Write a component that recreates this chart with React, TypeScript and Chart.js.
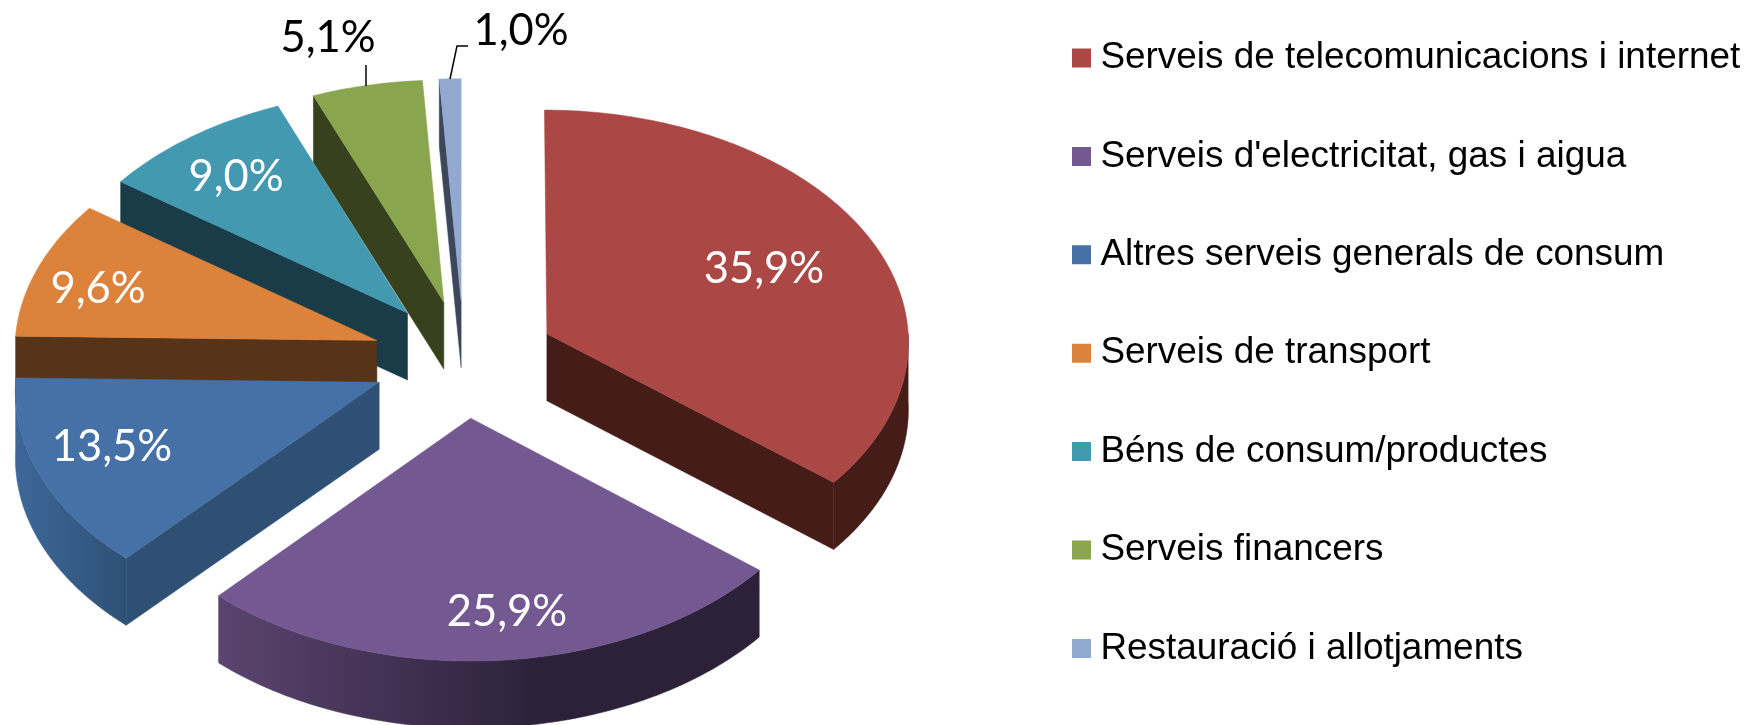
import React, { useEffect, useRef } from "react";
import { Chart, registerables } from "chart.js";

Chart.register(...registerables);

const categories = [
  "Serveis de telecomunicacions i internet",
  "Serveis d'electricitat, gas i aigua",
  "Altres serveis generals de consum",
  "Serveis de transport",
  "Béns de consum/productes",
  "Serveis financers",
  "Restauració i allotjaments",
];
const shares = [35.9, 25.9, 13.5, 9.6, 9.0, 5.1, 1.0];

const topColors = ["#AB4744", "#735891", "#4571A6", "#DD823B", "#4299B0", "#89A54E", "#93A9CF"];
const faceColors = ["#451C18", "#2C2139", "#2E5075", "#573418", "#1A3C48", "#38411D", "#3C475C"];
const wallLight = ["#451C18", "#5A4470", "#3E689A", "#573418", "#1A3C48", "#38411D", "#3C475C"];
const wallDark = ["#451C18", "#2C2139", "#2E5075", "#573418", "#1A3C48", "#38411D", "#3C475C"];
const wallFade = [1, 0.6, 1, 1, 1, 1, 1];
const labelColors = ["#fff", "#fff", "#fff", "#fff", "#fff", "#000", "#000"];
const labelAnchors = [
  [764, 269],
  [507, 612],
  [112, 447],
  [98, 289],
  [236, 177],
  [328, 38],
  [521, 31],
];
const leaderLines = [
  null,
  null,
  null,
  null,
  null,
  [[366, 65], [366, 86]],
  [[450, 79], [457, 46], [468, 46]],
];

const RADIUS = 362.5;
const EXPLODE = 92;
const TILT = 0.64;
const PERSPECTIVE = 0.03;
const DEPTH = 67;
const CENTER_X = 464;
const CENTER_Y = 359;
const LEGEND_FONT = 36.9;
const LEGEND_STEP = 98.4;
const LEGEND_PAD = LEGEND_STEP - LEGEND_FONT;
const LEGEND_X = 1081 - LEGEND_PAD;
const LEGEND_Y = 58 - LEGEND_PAD - LEGEND_FONT / 2;
const LEGEND_ROOM = 1000;

const project = (u: number, v: number, z: number, R: number, cx: number, cy: number) => {
  const p = 1 / (1 - (PERSPECTIVE * v) / R);
  return [cx + u * p, cy + v * TILT * p + z];
};

const pie3d = {
  id: "pie3d",
  beforeLayout(chart: any) {
    // the legend rows are spaced wider than the canvas would allow in one column
    const legend = chart.legend;
    if (!legend.__tall) {
      legend.__tall = true;
      const update = legend.update;
      legend.update = function (w: number, _h: number, m: any) {
        return update.call(legend, w, LEGEND_ROOM, m);
      };
    }
  },
  afterLayout(chart: any) {
    chart.chartArea = {
      left: 0,
      top: 0,
      right: CENTER_X * 2,
      bottom: CENTER_Y * 2,
      width: CENTER_X * 2,
      height: CENTER_Y * 2,
    };
    const legend = chart.legend;
    const w = legend.right - legend.left;
    legend.left = LEGEND_X;
    legend.right = LEGEND_X + w;
    legend.top = LEGEND_Y;
    legend.bottom = LEGEND_Y + LEGEND_ROOM;
  },
  beforeDatasetDraw(chart: any) {
    const ctx = chart.ctx;
    const arcs = chart.getDatasetMeta(0).data;
    const order = arcs
      .map((a: any, i: number) => i)
      .sort((a: number, b: number) => {
        const m = (x: any) => Math.sin((x.startAngle + x.endAngle) / 2);
        return m(arcs[a]) - m(arcs[b]);
      });

    order.forEach((i: number) => {
      const arc = arcs[i];
      const { x, y, startAngle: s, endAngle: e, outerRadius: R } = arc;
      const mid = (s + e) / 2;
      const ox = Math.cos(mid) * EXPLODE;
      const oy = Math.sin(mid) * EXPLODE;
      const pt = (r: number, a: number, z: number) =>
        project(ox + Math.cos(a) * r, oy + Math.sin(a) * r, z, R, x, y);

      const poly = (pts: number[][], fill: any) => {
        ctx.beginPath();
        pts.forEach((p, k) => (k ? ctx.lineTo(p[0], p[1]) : ctx.moveTo(p[0], p[1])));
        ctx.closePath();
        ctx.fillStyle = fill;
        ctx.fill();
        ctx.strokeStyle = fill;
        ctx.lineWidth = 0.5;
        ctx.stroke();
      };

      // Cut faces facing the viewer
      if (Math.cos(s) < -0.001) {
        poly([pt(0, s, 0), pt(R, s, 0), pt(R, s, DEPTH), pt(0, s, DEPTH)], faceColors[i]);
      }
      if (Math.cos(e) > 0.001) {
        poly([pt(0, e, 0), pt(R, e, 0), pt(R, e, DEPTH), pt(0, e, DEPTH)], faceColors[i]);
      }

      // Outer wall: only the part of the rim in the front half
      const a0 = Math.max(s, 0);
      const a1 = Math.min(e, Math.PI);
      if (a1 > a0) {
        const top: number[][] = [];
        const bottom: number[][] = [];
        const steps = 80;
        for (let k = 0; k <= steps; k++) {
          const a = a0 + ((a1 - a0) * k) / steps;
          top.push(pt(R, a, 0));
          bottom.unshift(pt(R, a, DEPTH));
        }
        const xs = top.map((p) => p[0]);
        const minX = Math.min(...xs);
        const maxX = Math.max(...xs);
        const g = ctx.createLinearGradient(minX, 0, maxX, 0);
        g.addColorStop(0, wallLight[i]);
        g.addColorStop(wallFade[i], wallDark[i]);
        g.addColorStop(1, wallDark[i]);
        poly([...top, ...bottom], g);
      }

      // Top surface
      const surface: number[][] = [pt(0, s, 0)];
      const n = Math.max(8, Math.ceil((e - s) * 60));
      for (let k = 0; k <= n; k++) surface.push(pt(R, s + ((e - s) * k) / n, 0));
      poly(surface, topColors[i]);
    });
    return false;
  },
  afterDatasetsDraw(chart: any) {
    const ctx = chart.ctx;
    ctx.save();
    ctx.strokeStyle = "#000";
    ctx.lineWidth = 1.5;
    leaderLines.forEach((line) => {
      if (!line) return;
      ctx.beginPath();
      line.forEach((p, k) => (k ? ctx.lineTo(p[0], p[1]) : ctx.moveTo(p[0], p[1])));
      ctx.stroke();
    });
    ctx.font = "43.5px Lato";
    ctx.textAlign = "center";
    ctx.textBaseline = "middle";
    shares.forEach((v, i) => {
      ctx.fillStyle = labelColors[i];
      ctx.fillText(v.toFixed(1).replace(".", ",") + "%", labelAnchors[i][0], labelAnchors[i][1]);
    });
    ctx.restore();
  },
};

export default function App() {
  const ref = useRef<HTMLCanvasElement>(null);
  useEffect(() => {
    if (!ref.current) return;
    const chart = new Chart(ref.current, {
      type: "pie",
      data: {
        labels: categories,
        datasets: [
          {
            data: shares,
            backgroundColor: topColors,
            borderWidth: 0,
            radius: RADIUS,
          } as any,
        ],
      },
      options: {
        responsive: false,
        animation: false,
        devicePixelRatio: 1,
        layout: { padding: 0 },
        plugins: {
          tooltip: { enabled: false },
          legend: {
            position: "right",
            align: "start",
            labels: {
              boxWidth: 1,
              boxHeight: 1,
              padding: LEGEND_PAD,
              color: "#000",
              font: { family: "'Liberation Sans'", size: LEGEND_FONT },
              generateLabels: () =>
                categories.map((text, i) => ({
                  text,
                  index: i,
                  hidden: false,
                  fillStyle: topColors[i],
                  strokeStyle: topColors[i],
                  lineWidth: 18,
                })),
            },
          },
        },
      } as any,
      plugins: [pie3d as any],
    });
    return () => chart.destroy();
  }, []);
  return (
    <div style={{ position: "absolute", left: 0, top: 0, width: 1755, height: 725, overflow: "hidden", background: "#fff" }}>
      <canvas ref={ref} width={1755} height={725} style={{ display: "block" }} />
    </div>
  );
}
